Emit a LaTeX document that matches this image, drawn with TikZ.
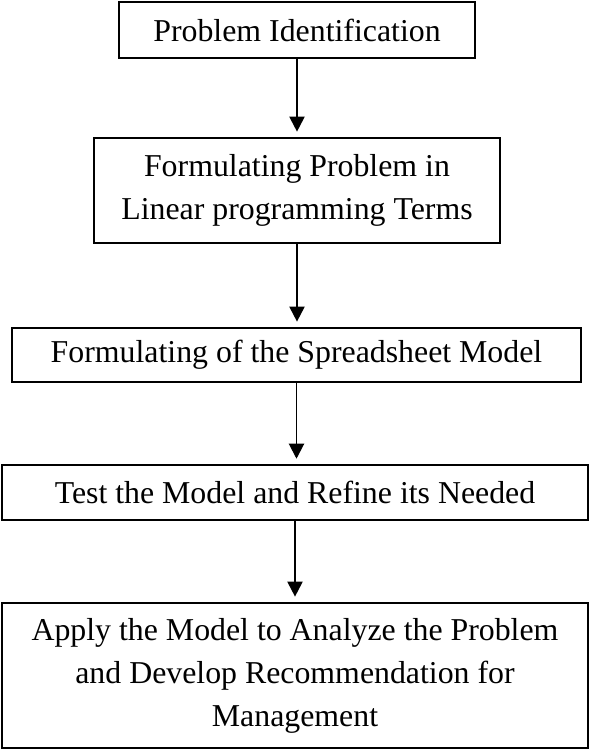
\documentclass[tikz,border=0pt]{standalone}
\usepackage{fontspec}
\setmainfont{Liberation Serif}
\usepackage{tikz}
\usetikzlibrary{positioning,calc}
\usetikzlibrary{arrows.meta}
\tikzstyle{fase} = [rectangle, draw=black, line width=0.75pt, inner sep=0pt, align=center,
font=\fontsize{12}{16.2}\selectfont]
\tikzstyle{flow} = [line width=0.75pt,-{Triangle[width=5.7pt,length=5.7pt]},shorten >=2pt]

\begin{document}
\begin{tikzpicture}[x=0.377pt,y=-0.377pt]
						\useasboundingbox (0,0) rectangle (590,751);
						\node (p1) at (297,30) [fase,minimum width=134.2pt,minimum height=21.1pt] {Problem Identification};
						\node (p2) at (297,190.5) [fase,minimum width=152.7pt,minimum height=39.6pt] {Formulating Problem in\\ Linear programming Terms};
						\node (p3) at (296.5,355) [fase,minimum width=214.5pt,minimum height=20.4pt] {Formulating of the Spreadsheet Model};
						\node (p4) at (295,492.5) [fase,minimum width=220.9pt,minimum height=20.7pt] {Test the Model and Refine its Needed};
						\node (p5) at (295,675.5) [fase,minimum width=220.9pt,minimum height=54.7pt] {Apply the Model to Analyze the Problem\\ and Develop Recommendation for\\ Management};
						
						\draw[flow] (p1.south) -- (p1.south |- p2.north);
						\draw[flow] (p2.south) -- (p2.south |- p3.north);
						\draw[flow] (p3.south) -- (p3.south |- p4.north);
						\draw[flow] (p4.south) -- (p4.south |- p5.north);
					\end{tikzpicture}
\end{document}
